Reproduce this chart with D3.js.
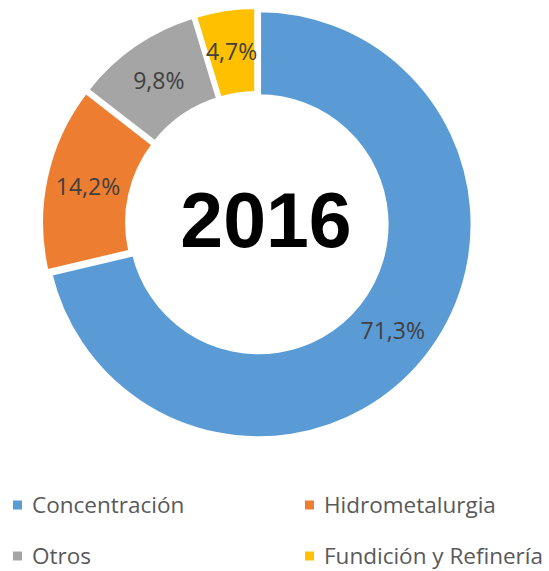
<!DOCTYPE html>
<html>
<head>
<meta charset="utf-8">
<script src="https://cdn.jsdelivr.net/npm/d3@7"></script>
<style>
  body { margin: 0; background: #fff; }
  svg { display: block; }
</style>
</head>
<body>
<svg id="chart"></svg>
<script>
const width = 549;
const height = 571;

// Datos
const categories = ["Concentración", "Hidrometalurgia", "Otros", "Fundición y Refinería"];
const values = [71.3, 14.2, 9.8, 4.7];
const labels = ["71,3%", "14,2%", "9,8%", "4,7%"];
const colors = ["#5B9BD5", "#ED7D31", "#A5A5A5", "#FFC000"];
const year = "2016";

const cx = 257, cy = 223;
const outerR = 214.5;
const innerR = 127.5;
const explode = 2;

const svg = d3.select("#chart")
  .attr("width", width)
  .attr("height", height);

const pie = d3.pie().sort(null).value(d => d);
const arc = d3.arc().innerRadius(innerR).outerRadius(outerR);
const color = d3.scaleOrdinal().domain(categories).range(colors);

const arcs = pie(values);
const g = svg.append("g").attr("transform", `translate(${cx},${cy})`);

// Segmentos del anillo
const slice = g.selectAll("g.slice")
  .data(arcs)
  .join("g")
  .attr("class", "slice")
  .attr("transform", d => {
    const a = (d.startAngle + d.endAngle) / 2;
    return `translate(${explode * Math.sin(a)},${-explode * Math.cos(a)})`;
  });

slice.append("path")
  .attr("d", arc)
  .attr("fill", (d, i) => color(categories[i]))
  .attr("stroke", "#fff")
  .attr("stroke-width", 5)
  .attr("stroke-linejoin", "miter");

// Etiquetas de porcentaje
slice.append("text")
  .attr("transform", d => `translate(${arc.centroid(d)})`)
  .attr("text-anchor", "middle")
  .attr("dy", "0.36em")
  .attr("font-family", "'Open Sans', sans-serif")
  .attr("font-size", 23)
  .attr("fill", "#404040")
  .text((d, i) => labels[i]);

// Año al centro
svg.append("text")
  .attr("x", 266)
  .attr("y", 247)
  .attr("text-anchor", "middle")
  .attr("font-family", "'Liberation Sans', Arial, sans-serif")
  .attr("font-weight", "bold")
  .attr("font-size", 77)
  .attr("fill", "#000")
  .text(year);

// Leyenda
const legendX = d3.scalePoint().domain([0, 1]).range([13, 305]);
const legendY = d3.scalePoint().domain([0, 1]).range([505, 556]);

const legend = svg.selectAll("g.legend")
  .data(categories)
  .join("g")
  .attr("class", "legend")
  .attr("transform", (d, i) => `translate(${legendX(i % 2)},${legendY(Math.floor(i / 2))})`);

legend.append("rect")
  .attr("x", 0)
  .attr("y", -4.5)
  .attr("width", 9)
  .attr("height", 9)
  .attr("fill", d => color(d));

legend.append("text")
  .attr("x", 19)
  .attr("dy", "0.36em")
  .attr("font-family", "'Open Sans', sans-serif")
  .attr("font-size", 22.5)
  .attr("fill", "#595959")
  .text(d => d);
</script>
</body>
</html>
